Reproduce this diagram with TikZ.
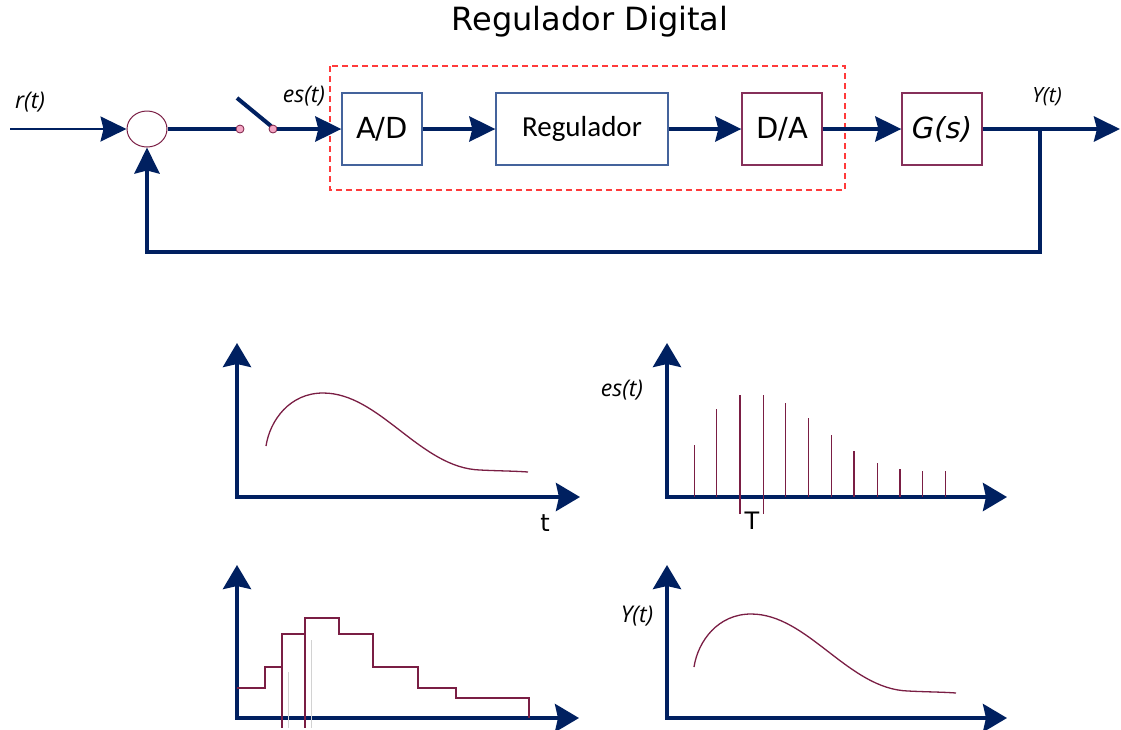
\documentclass[tikz,border=0pt]{standalone}
\usepackage{fontspec}
\setmainfont{DejaVu Sans}
\newfontfamily\lblfont{Open Sans}
\newfontfamily\calfont{Carlito}
\usetikzlibrary{arrows.meta,shapes.geometric}

\definecolor{navy}{HTML}{002060}
\definecolor{wine}{HTML}{7A1E44}
\definecolor{boxblue}{HTML}{44639C}
\definecolor{boxwine}{HTML}{86305A}
\definecolor{pinkdot}{HTML}{F4A6C4}
\definecolor{dashred}{HTML}{FF3B3B}

\tikzset{
  bigtip/.tip={Stealth[length=26pt,width=25pt,inset=3pt]},
  axtip/.tip={Stealth[length=24pt,width=28pt,inset=3pt]},
  flow/.style={draw=navy,line width=4pt,-bigtip},
  wire/.style={draw=navy,line width=4pt},
  thinflow/.style={draw=navy,line width=2pt,-bigtip},
  axis/.style={draw=navy,line width=4pt,line join=miter,axtip-axtip},
  bluebox/.style={draw=boxblue,line width=1.3pt,minimum height=72pt,inner sep=0pt},
  winebox/.style={draw=boxwine,line width=1.3pt,minimum height=72pt,inner sep=0pt},
  contact/.style={circle,draw=wine,fill=pinkdot,line width=0.8pt,minimum size=8pt,inner sep=0pt},
  lbl/.style={font=\lblfont\itshape\fontsize{23}{26}\selectfont},
  smalllbl/.style={font=\lblfont\itshape\fontsize{21}{24}\selectfont},
  sig/.style={draw=wine,line width=1.3pt},
  stem/.style={draw=wine,line width=1.3pt},
}

\newcommand\respcurve{%
  (0,0) .. controls (4,-26) and (24,-53) .. (57,-53)
        .. controls (114,-53) and (154,22) .. (214,24)
        .. controls (234,25) and (249,25) .. (262,26)}

\begin{document}
\begin{tikzpicture}[x=1pt,y=-1pt]
\useasboundingbox (0,0) rectangle (1121,729);

% ---------- title ----------
\node (title) at (590,22) {\fontsize{32}{37}\selectfont Regulador Digital};

% ---------- loop blocks ----------
\draw[dashred,line width=1.1pt,dash pattern=on 6pt off 4pt] (330,66) rectangle (845,190);

\node[ellipse,draw=wine,line width=1pt,minimum width=40pt,minimum height=36pt,inner sep=0pt] (sum) at (147,129) {};
\node[bluebox,minimum width=80pt] (ad) at (382,129) {\fontsize{29}{34}\selectfont A/D};
\node[bluebox,minimum width=172pt] (reg) at (582,129) {\calfont\fontsize{29}{34}\selectfont Regulador};
\node[winebox,minimum width=80pt] (da) at (782,129) {\fontsize{29}{34}\selectfont D/A};
\node[winebox,minimum width=80pt] (gs) at (942,129) {\fontsize{29}{34}\selectfont\itshape G(s)};

\coordinate (rin) at (10,129);
\coordinate (lever) at (237,98);
\coordinate (yout) at (1120,129);
\coordinate (br) at (1040,129);
\coordinate (fb) at (1040,252);

% sampler switch
\draw[wire] (lever) -- (271,126);
\node[contact] (c1) at (240,129) {};
\node[contact] (c2) at (273,129) {};

% connectors
\draw[thinflow] (rin) -- (sum.west);
\draw[wire] (sum.east) -- (c1.west);
\draw[flow] (c2.east) -- (ad.west);
\draw[flow] (ad.east) -- (reg.west);
\draw[flow] (reg.east) -- (da.west);
\draw[flow] (da.east) -- (gs.west);
\draw[flow] (gs.east) -- (yout);
\draw[flow] (br) -- (fb) -| (sum.south);

% signal labels
\node[lbl] (lr) at (30,102) {r(t)};
\node[lbl] (les) at (304,96) {es(t)};
\node[smalllbl] (ly) at (1047,97) {Y(t)};

% ---------- continuous error signal ----------
\draw[axis] (237,343) -- (237,497) -- (580,497);
\draw[sig,shift={(266,446)}] \respcurve;
\node (lt) at (545,523) {\fontsize{24}{28}\selectfont t};

% ---------- sampled signal ----------
\draw[axis] (667,343) -- (667,497) -- (1007,497);
\foreach \x/\h in {694.3/445,716.7/409,785.7/403.3,808.7/417.7,831.3/434.7,854/450.7,877.3/463.3,900/469.3,922.7/471,945.7/471}
  \draw[stem] (\x,497) -- (\x,\h);
\draw[stem] (740,514) -- (740,395);
\draw[stem] (763.3,514) -- (763.3,395);
\node[lbl] (les2) at (622,390) {es(t)};
\node (lT) at (752,521) {\fontsize{24}{28}\selectfont T};

% ---------- zero-order hold output ----------
\draw[axis] (237,565) -- (237,718) -- (579,718);
\draw[gray!35,line width=0.8pt] (288,672) -- (288,728);
\draw[gray!35,line width=0.8pt] (311,640) -- (311,728);
\draw[sig] (237,688) -- (265,688) -- (265,667) -- (282,667) -- (282,634)
  -- (305,634) -- (305,618) -- (339,618) -- (339,634) -- (373,634)
  -- (373,667) -- (418,667) -- (418,688) -- (456,688) -- (456,698)
  -- (529,698) -- (529,718);
\draw[sig] (282,634) -- (282,728);
\draw[sig] (305,618) -- (305,728);

% ---------- plant output ----------
\draw[axis] (667,565) -- (667,718) -- (1007,718);
\draw[sig,shift={(694,667)}] \respcurve;
\node[lbl] (ly2) at (637,616) {Y(t)};

\end{tikzpicture}
\end{document}
